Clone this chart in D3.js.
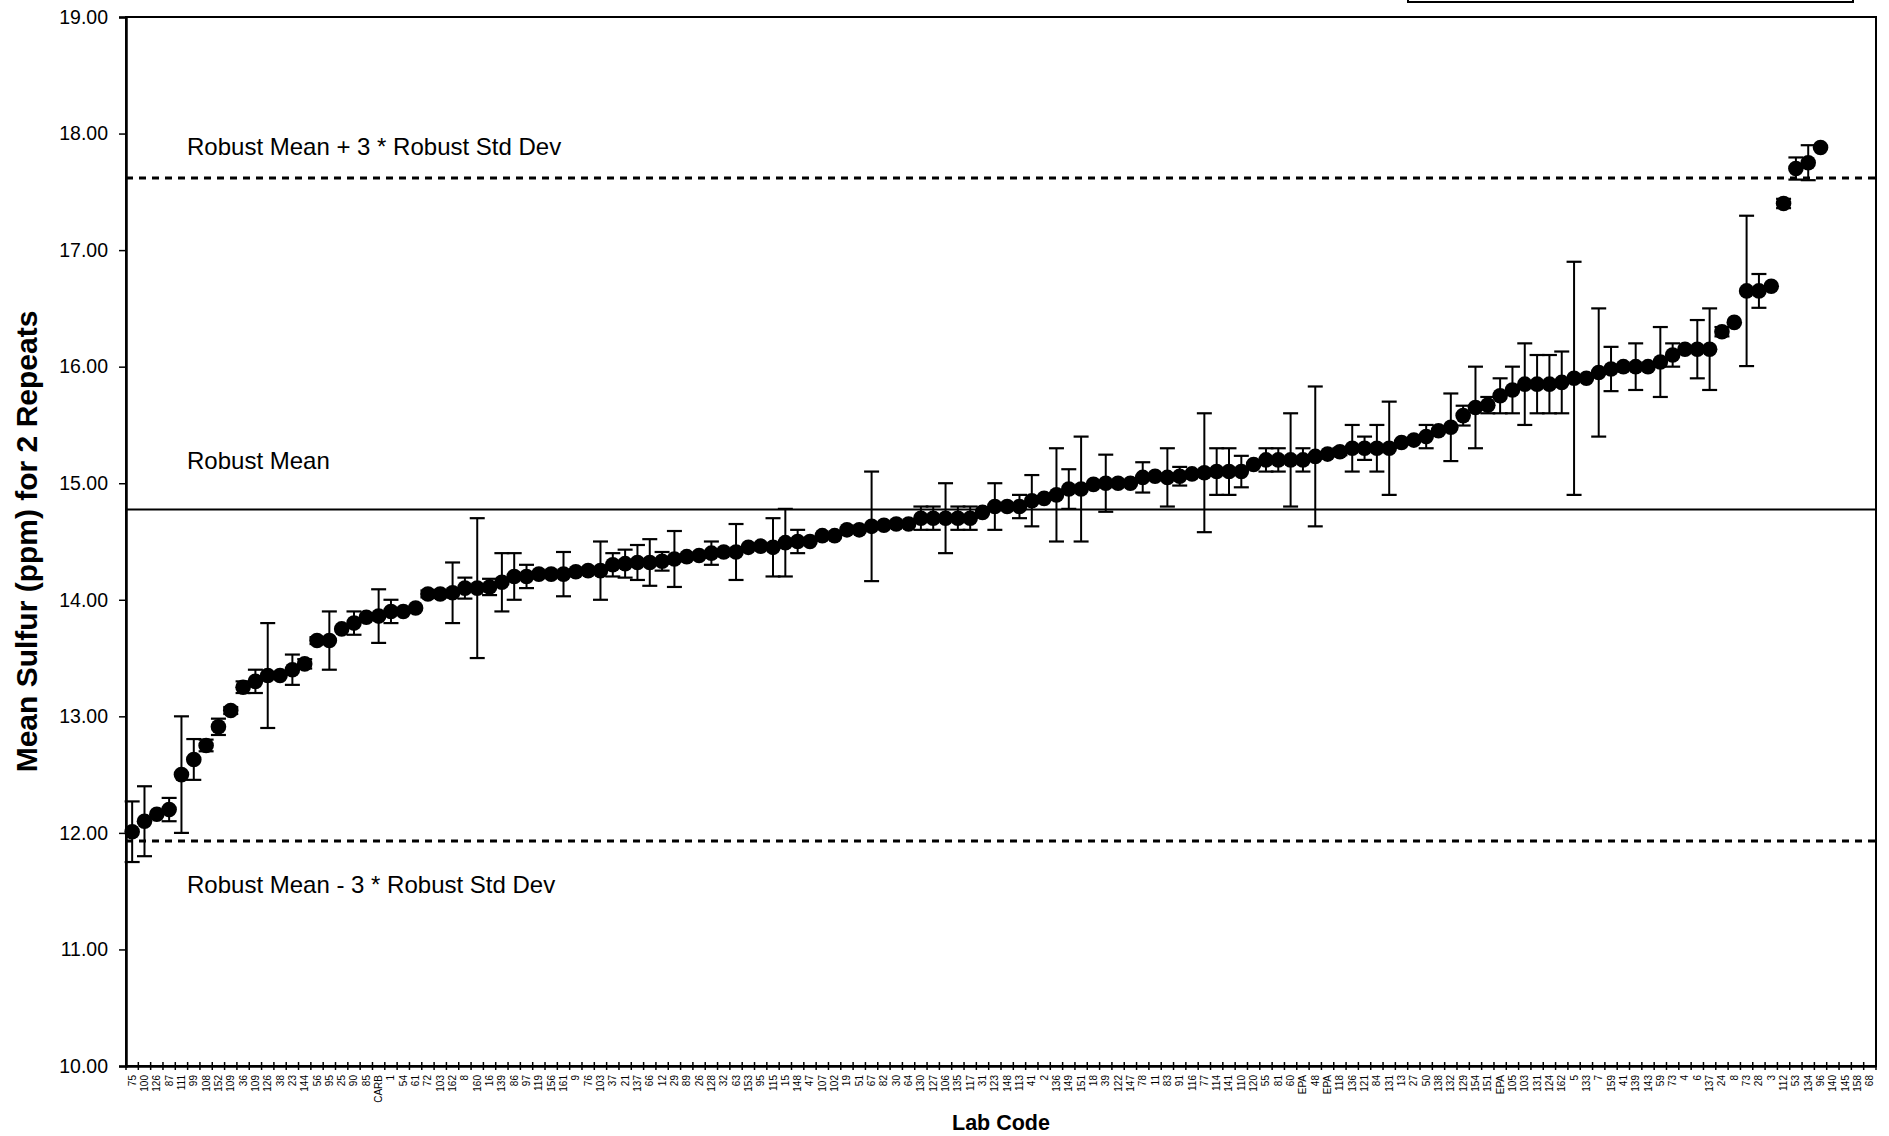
<!DOCTYPE html>
<html>
<head>
<meta charset="utf-8">
<script src="https://cdn.jsdelivr.net/npm/d3@7"></script>
<style>
  html, body { margin: 0; padding: 0; background: #fff; }
  svg { display: block; font-family: "Liberation Sans", Arial, sans-serif; }
</style>
</head>
<body>
<svg id="chart" width="1889" height="1136"></svg>
<script>
  // lab codes in plotted order (sorted by mean)
  var labCodes = [
    '75','100','126','87','111','99','108','152','109','36','109','126','38','23','144','56','95','25','90','85',
    'CARB','1','54','61','72','103','162','8','160','16','139','86','97','119','156','161','9','76','103','37',
    '21','137','66','12','29','89','26','128','32','63','153','95','115','15','148','47','107','102','19','51',
    '67','82','30','64','130','127','106','135','117','31','123','148','113','41','2','136','149','151','18','39',
    '122','147','78','11','83','91','116','77','114','141','110','120','55','81','60','EPA','48','EPA','118','136',
    '121','84','131','13','27','50','138','132','129','154','151','EPA','105','103','131','124','162','5','133','7',
    '159','41','139','143','59','73','4','6','137','24','8','73','28','3','112','53','134','96','140','145',
    '158','68'
  ];

  // mean of the 2 repeats, one per lab (last four labs have no result)
  var meanSulfur = [
    12.01, 12.10, 12.16, 12.20, 12.50, 12.63, 12.75, 12.91, 13.05, 13.25,
    13.30, 13.35, 13.35, 13.40, 13.45, 13.65, 13.65, 13.75, 13.80, 13.85,
    13.86, 13.90, 13.90, 13.93, 14.05, 14.05, 14.06, 14.10, 14.10, 14.11,
    14.15, 14.20, 14.20, 14.22, 14.22, 14.22, 14.24, 14.25, 14.25, 14.30,
    14.31, 14.32, 14.32, 14.33, 14.35, 14.37, 14.38, 14.40, 14.41, 14.41,
    14.45, 14.46, 14.45, 14.49, 14.50, 14.50, 14.55, 14.55, 14.60, 14.60,
    14.63, 14.64, 14.65, 14.65, 14.70, 14.70, 14.70, 14.70, 14.70, 14.75,
    14.80, 14.80, 14.80, 14.85, 14.87, 14.90, 14.95, 14.95, 14.99, 15.00,
    15.00, 15.00, 15.05, 15.06, 15.05, 15.06, 15.08, 15.09, 15.10, 15.10,
    15.10, 15.16, 15.20, 15.20, 15.20, 15.20, 15.23, 15.25, 15.27, 15.30,
    15.30, 15.30, 15.30, 15.35, 15.37, 15.40, 15.45, 15.48, 15.58, 15.65,
    15.67, 15.75, 15.80, 15.85, 15.85, 15.85, 15.865, 15.90, 15.90, 15.95,
    15.98, 16.00, 16.00, 16.00, 16.04, 16.10, 16.15, 16.15, 16.15, 16.30,
    16.38, 16.65, 16.65, 16.69, 17.40, 17.70, 17.75, 17.88
  ];

  // half range of the 2 repeats (error bar half height)
  var halfRange = [
    0.26, 0.30, 0.00, 0.10, 0.50, 0.175, 0.05, 0.07, 0.03, 0.05,
    0.10, 0.45, 0.00, 0.13, 0.04, 0.03, 0.25, 0.00, 0.10, 0.00,
    0.23, 0.10, 0.00, 0.00, 0.03, 0.03, 0.26, 0.09, 0.60, 0.07,
    0.25, 0.20, 0.10, 0.00, 0.00, 0.19, 0.00, 0.00, 0.25, 0.10,
    0.12, 0.15, 0.20, 0.08, 0.24, 0.00, 0.00, 0.10, 0.00, 0.24,
    0.00, 0.00, 0.25, 0.29, 0.10, 0.00, 0.00, 0.00, 0.00, 0.00,
    0.47, 0.00, 0.00, 0.00, 0.10, 0.10, 0.30, 0.10, 0.10, 0.00,
    0.20, 0.00, 0.10, 0.22, 0.00, 0.40, 0.17, 0.45, 0.00, 0.245,
    0.00, 0.00, 0.13, 0.00, 0.25, 0.08, 0.00, 0.51, 0.20, 0.20,
    0.135, 0.00, 0.10, 0.10, 0.40, 0.10, 0.60, 0.00, 0.03, 0.20,
    0.10, 0.20, 0.40, 0.00, 0.00, 0.10, 0.00, 0.29, 0.085, 0.35,
    0.07, 0.15, 0.20, 0.35, 0.25, 0.25, 0.265, 1.00, 0.00, 0.55,
    0.19, 0.00, 0.20, 0.00, 0.30, 0.10, 0.00, 0.25, 0.35, 0.04,
    0.00, 0.645, 0.145, 0.00, 0.04, 0.095, 0.15, 0.00
  ];

  var robustMean = 14.775;
  var robustStdDev = 0.948;
  var yTicks = [10, 11, 12, 13, 14, 15, 16, 17, 18, 19];

  var margin = {top: 17, left: 126, right: 13, bottom: 70};
  var W = 1889, H = 1136;
  var plotW = W - margin.left - margin.right;
  var plotH = 1066 - margin.top;

  var svg = d3.select('#chart');

  // partially visible legend box at the very top
  svg.append('rect')
    .attr('x', 1408).attr('y', -30)
    .attr('width', 445).attr('height', 32)
    .attr('fill', '#fff').attr('stroke', '#000').attr('stroke-width', 2);

  var g = svg.append('g')
    .attr('transform', 'translate(' + margin.left + ',' + margin.top + ')');

  var idx = labCodes.map(function(d, i) { return String(i); });

  var x = d3.scaleBand()
    .domain(idx)
    .range([0, plotW])
    .padding(0);

  var y = d3.scaleLinear()
    .domain([10, 19])
    .range([plotH, 0]);

  // plot border
  g.append('rect')
    .attr('x', 0).attr('y', 0)
    .attr('width', plotW).attr('height', plotH)
    .attr('fill', 'none').attr('stroke', '#000').attr('stroke-width', 2);

  // y axis
  var yAxis = g.append('g')
    .attr('class', 'y-axis')
    .call(d3.axisLeft(y).tickValues(yTicks).tickFormat(d3.format('.2f')).tickSize(7).tickPadding(11));
  yAxis.select('.domain').attr('stroke-width', 2.5);
  yAxis.selectAll('.tick line').attr('stroke-width', 1.5);
  yAxis.selectAll('.tick text')
    .attr('font-size', '19.5px')
    .attr('fill', '#000');

  // x axis, category labels centred in each band
  var xAxis = g.append('g')
    .attr('class', 'x-axis')
    .attr('transform', 'translate(0,' + plotH + ')')
    .call(d3.axisBottom(x).tickSize(0).tickFormat(function(d) { return labCodes[+d]; }));
  xAxis.select('.domain').attr('stroke-width', 2.5);
  xAxis.selectAll('.tick text')
    .attr('font-size', '10px')
    .attr('fill', '#000')
    .attr('text-anchor', 'end')
    .attr('dy', '0.35em')
    .attr('transform', 'translate(0,9) rotate(-90)')
    .attr('x', 0).attr('y', 0);

  // tick marks between categories (crossing the axis)
  xAxis.selectAll('line.between')
    .data(idx.concat(['end']))
    .enter().append('line')
    .attr('class', 'between')
    .attr('x1', function(d) { return d === 'end' ? plotW : x(d); })
    .attr('x2', function(d) { return d === 'end' ? plotW : x(d); })
    .attr('y1', -4).attr('y2', 4)
    .attr('stroke', '#000').attr('stroke-width', 1.5);

  // reference lines
  var refs = [
    {v: robustMean + 3 * robustStdDev, dash: '7,6', label: 'Robust Mean + 3 * Robust Std Dev', dy: -23},
    {v: robustMean, dash: null, label: 'Robust Mean', dy: -40},
    {v: robustMean - 3 * robustStdDev, dash: '7,6', label: 'Robust Mean - 3 * Robust Std Dev', dy: 52}
  ];

  refs.forEach(function(r) {
    g.append('line')
      .attr('x1', 0).attr('x2', plotW)
      .attr('y1', y(r.v)).attr('y2', y(r.v))
      .attr('stroke', '#000')
      .attr('stroke-width', r.dash ? 3 : 2)
      .attr('stroke-dasharray', r.dash);
    g.append('text')
      .attr('x', 61)
      .attr('y', y(r.v) + r.dy)
      .attr('font-size', '24px')
      .attr('fill', '#000')
      .text(r.label);
  });

  var pts = meanSulfur.map(function(v, i) {
    return {i: String(i), v: v, e: halfRange[i]};
  });

  var cx = function(d) { return x(d.i) + x.bandwidth() / 2; };

  // error bars
  var bars = g.append('g').attr('class', 'error-bars')
    .selectAll('g')
    .data(pts.filter(function(d) { return d.e > 0; }))
    .enter().append('g');

  bars.append('line')
    .attr('x1', cx).attr('x2', cx)
    .attr('y1', function(d) { return y(d.v + d.e); })
    .attr('y2', function(d) { return y(d.v - d.e); })
    .attr('stroke', '#000').attr('stroke-width', 2);

  [1, -1].forEach(function(s) {
    bars.append('line')
      .attr('x1', function(d) { return cx(d) - 7.5; })
      .attr('x2', function(d) { return cx(d) + 7.5; })
      .attr('y1', function(d) { return y(d.v + s * d.e); })
      .attr('y2', function(d) { return y(d.v + s * d.e); })
      .attr('stroke', '#000').attr('stroke-width', 2.2);
  });

  // markers
  g.append('g').attr('class', 'markers')
    .selectAll('circle')
    .data(pts)
    .enter().append('circle')
    .attr('cx', cx)
    .attr('cy', function(d) { return y(d.v); })
    .attr('r', 7.8)
    .attr('fill', '#000');

  // axis titles
  svg.append('text')
    .attr('x', margin.left + plotW / 2)
    .attr('y', 1130)
    .attr('text-anchor', 'middle')
    .attr('font-size', '21.5px')
    .attr('font-weight', 'bold')
    .text('Lab Code');

  svg.append('text')
    .attr('transform', 'translate(37,' + (margin.top + plotH / 2) + ') rotate(-90)')
    .attr('text-anchor', 'middle')
    .attr('font-size', '30px')
    .attr('font-weight', 'bold')
    .text('Mean Sulfur (ppm) for 2 Repeats');
</script>
</body>
</html>
